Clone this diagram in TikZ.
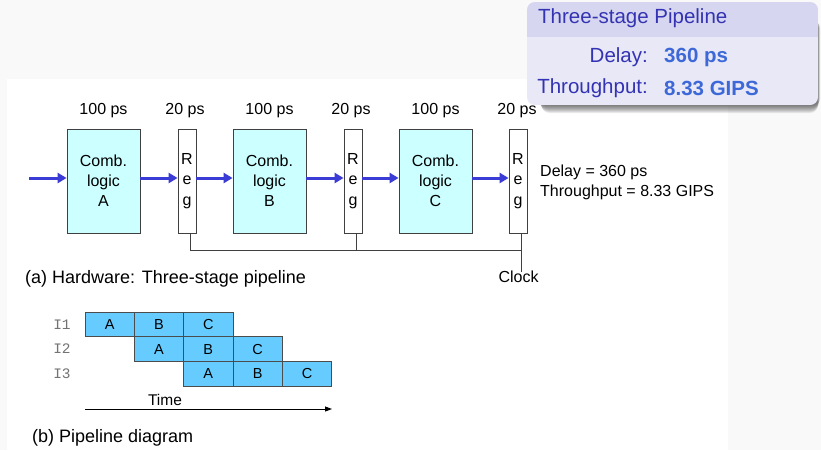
\documentclass[tikz,border=0pt]{standalone}
\usepackage{fontspec}
\setmainfont{Liberation Sans}
\setmonofont{Liberation Mono}
\usetikzlibrary{arrows.meta}
\definecolor{bgray}{HTML}{F9F9F9}
\definecolor{arrowblue}{HTML}{3B3BD6}
\definecolor{combfill}{HTML}{CCFFFF}
\definecolor{cellfill}{HTML}{66CCFF}
\definecolor{structc}{HTML}{3333B3}
\definecolor{valc}{HTML}{3D68D8}
\definecolor{hdrc}{HTML}{D6D6F0}
\definecolor{bodyc}{HTML}{E8E8F7}
\tikzset{
  txt/.style={inner sep=0pt, font=\fontsize{16}{20}\selectfont},
  captxt/.style={inner sep=0pt, font=\fontsize{18}{22}\selectfont},
  comb/.style={draw=black!75, fill=combfill, line width=0.8pt, minimum width=73pt, minimum height=104pt, inner sep=0pt, align=center, font=\fontsize{16}{20}\selectfont},
  regbox/.style={draw=black!75, fill=white, line width=0.8pt, minimum width=18pt, minimum height=104pt, inner sep=0pt, align=center, font=\fontsize{16}{20.5}\selectfont},
  barrow/.style={arrowblue, line width=3pt, -{Triangle[length=9pt,width=10pt]}},
  cell/.style={draw=black!70, fill=cellfill, line width=0.6pt, minimum width=49.33pt, minimum height=24.7pt, inner sep=0pt, font=\fontsize{14.5}{16}\selectfont},
  ilab/.style={inner sep=0pt, text=black!55, font=\ttfamily\fontsize{14.5}{16}\selectfont},
  clockline/.style={draw=black!75, line width=0.8pt},
  blktxt/.style={inner sep=0pt, text=structc, font=\fontsize{20.5}{24}\selectfont},
  blkval/.style={inner sep=0pt, text=valc, font=\bfseries\fontsize{20.5}{24}\selectfont},
}
\begin{document}
\begin{tikzpicture}[x=1pt, y=-1pt]
\useasboundingbox (0,0) rectangle (821,450);
\fill[bgray] (0,0) rectangle (821,450);
\fill[white] (7,79) rectangle (728,450);

% hardware
\node[comb] (A) at (103.5,181) {Comb.\\logic\\A};
\node[comb] (B) at (269.5,181) {Comb.\\logic\\B};
\node[comb] (C) at (435.5,181) {Comb.\\logic\\C};
\node[regbox] (R1) at (187,181) {R\\e\\g};
\node[regbox] (R2) at (353,181) {R\\e\\g};
\node[regbox] (R3) at (518,181) {R\\e\\g};

\node[txt] at ([yshift=18pt]A.north) {100 ps};
\node[txt] at ([yshift=18pt]B.north) {100 ps};
\node[txt] at ([yshift=18pt]C.north) {100 ps};
\node[txt] at ([yshift=18pt,xshift=-2pt]R1.north) {20 ps};
\node[txt] at ([yshift=18pt,xshift=-2pt]R2.north) {20 ps};
\node[txt] at ([yshift=18pt,xshift=-1pt]R3.north) {20 ps};

\coordinate (in) at (29,178);
\draw[barrow] (in) -- ([yshift=3pt]A.west);
\draw[barrow] ([yshift=3pt]A.east) -- ([yshift=3pt]R1.west);
\draw[barrow] ([yshift=3pt]R1.east) -- ([yshift=3pt]B.west);
\draw[barrow] ([yshift=3pt]B.east) -- ([yshift=3pt]R2.west);
\draw[barrow] ([yshift=3pt]R2.east) -- ([yshift=3pt]C.west);
\draw[barrow] ([yshift=3pt]C.east) -- ([yshift=3pt]R3.west);

\node[txt] (clock) at (518.5,277) {Clock};
\draw[clockline] ([xshift=3pt]R1.south) -- ++(0,17) -| ([xshift=3pt]R3.south);
\draw[clockline] ([xshift=3pt]R2.south) -- ++(0,17);
\draw[clockline] ([xshift=3pt]R3.south) -- ([xshift=3pt,yshift=-1pt]R3.south |- clock.north);

\node[txt, anchor=west, align=left] (res) at (540,182) {Delay = 360 ps\\Throughput = 8.33 GIPS};
\node[captxt, anchor=west] (capa) at (25,279) {(a) Hardware: Three-stage pipeline};

% pipeline diagram
\node[cell] (c11) at (109.67,324.35) {A};
\node[cell] (c12) at (159.0,324.35) {B};
\node[cell] (c13) at (208.33,324.35) {C};
\node[cell] (c21) at (159.0,349.05) {A};
\node[cell] (c22) at (208.33,349.05) {B};
\node[cell] (c23) at (257.67,349.05) {C};
\node[cell] (c31) at (208.33,373.75) {A};
\node[cell] (c32) at (257.67,373.75) {B};
\node[cell] (c33) at (307.0,373.75) {C};
\node[ilab] (i1) at (62,324.35) {I1};
\node[ilab] (i2) at (62,349.05) {I2};
\node[ilab] (i3) at (62,373.75) {I3};
\node[inner sep=0pt, font=\fontsize{15.5}{18}\selectfont] (time) at (165,400) {Time};
\coordinate (t0) at (85,409);
\coordinate (t1) at (332,409);
\draw[line width=0.9pt, -{Triangle[length=7pt,width=5pt]}] (t0) -- (t1);
\node[captxt, anchor=west] (capb) at (32,438) {(b) Pipeline diagram};

% block
\foreach \s in {0,...,7}
  \fill[black, opacity=0.08, rounded corners=8pt] (538+\s*0.5,20) rectangle (820-\s*0.3,106+\s);
\begin{scope}
\clip[rounded corners=8pt] (527,2) rectangle (818,105);
\fill[bodyc] (527,2) rectangle (818,105);
\fill[hdrc] (527,2) rectangle (818,37);
\end{scope}
\node[blktxt, anchor=west] (title) at (538,18) {Three-stage Pipeline};
\node[blktxt, anchor=east] (dl) at (648,57) {Delay:};
\node[blkval, anchor=west] (dv) at (664,57) {360 ps};
\node[blktxt, anchor=east] (tl) at (648,88) {Throughput:};
\node[blkval, anchor=west] (tv) at (664,88) {8.33 GIPS};
\end{tikzpicture}
\end{document}
